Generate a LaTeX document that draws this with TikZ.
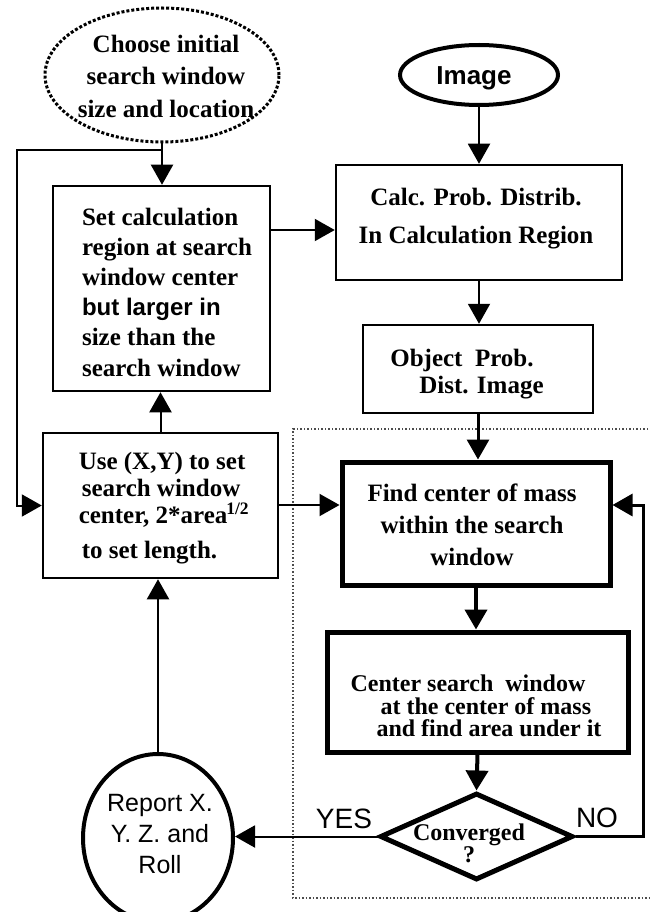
\documentclass[tikz,border=0pt]{standalone}
\usepackage{fontspec}
\setmainfont{Liberation Serif}
\setsansfont{Liberation Sans}
\usetikzlibrary{arrows.meta,shapes.geometric}
\begin{document}
\begin{tikzpicture}[x=1pt,y=-1pt,
  line width=2pt,
  box/.style={draw, rectangle, inner sep=0pt, line width=2.5pt},
  thickbox/.style={draw, rectangle, inner sep=0pt, line width=5pt},
  txt/.style={inner sep=0pt, align=center, font=\fontsize{25}{30}\selectfont\bfseries},
  sftxt/.style={inner sep=0pt, align=center, font=\fontsize{25}{31}\selectfont\sffamily},
  ar/.style={-{Triangle[length=20pt,width=22pt]}, line width=2pt},
  ]
\useasboundingbox (0,0) rectangle (649,912);

% dotted region
\draw[dotted, line width=1.5pt, black!70] (655,429) -- (293,429) -- (293,898) -- (655,898);

% shapes
\node[draw, ellipse, dotted, line width=3pt, minimum width=234pt, minimum height=134pt, inner sep=0pt] (choose) at (162,75) {};
\node[draw, ellipse, line width=4pt, minimum width=158pt, minimum height=60pt, inner sep=0pt] (image) at (479,75) {};
\node[box, minimum width=217pt, minimum height=205pt] (set) at (161.5,288.5) {};
\node[box, minimum width=286pt, minimum height=115pt] (calc) at (479,222.5) {};
\node[box, minimum width=230pt, minimum height=88pt] (obj) at (478,369) {};
\node[box, minimum width=235pt, minimum height=145pt] (use) at (160.5,505.5) {};
\node[thickbox, minimum width=268pt, minimum height=123pt] (find) at (476,523.5) {};
\node[thickbox, minimum width=301pt, minimum height=120pt] (cent) at (477.5,692) {};
\node[draw, diamond, line width=5pt, minimum width=193pt, minimum height=87pt, inner sep=0pt] (conv) at (476.5,836.5) {};
\node[draw, ellipse, line width=4pt, minimum width=150pt, minimum height=168pt, inner sep=0pt] (report) at (158,838) {};

% texts
\node[txt, font=\fontsize{25}{32.5}\selectfont\bfseries] (tchoose) at (166,76) {Choose initial\\search window\\size and location};
\node[inner sep=0pt, font=\fontsize{26}{30}\selectfont\sffamily\bfseries] (timage) at (474,78) {Image};
\node[txt, align=left, font=\fontsize{25}{30.2}\selectfont\bfseries] (tset) at (167,292)
  {Set calculation\\region at search\\window center\\{\sffamily\fontsize{24}{30}\selectfont but larger in}\\size than the\\search window};
\node[txt, font=\fontsize{25}{38}\selectfont\bfseries] (tcalc) at (476,219) {Calc. Prob. Distrib.\\In Calculation Region};
\node[txt, align=left, font=\fontsize{25}{27}\selectfont\bfseries] (tobj) at (467,374) {Object\ \ Prob.\\\hspace*{29pt}Dist. Image};
\node[txt, align=left, font=\fontsize{25}{27}\selectfont\bfseries] (tuse) at (164,508)
  {Use (X,Y) to set\\\hspace*{3pt}search window\\center, 2*area\kern-1pt\textsuperscript{1/2}\\[8pt]\hspace*{3pt}to set length.};
\node[txt, font=\fontsize{25}{32}\selectfont\bfseries] (tfind) at (472,525) {Find center of mass\\within the search\\window};
\node[txt, align=left, font=\fontsize{24}{22.5}\selectfont\bfseries] (tcent) at (476,706)
  {Center search\ \ window\\\hspace*{30pt}at the center of mass\\\hspace*{26pt}and find area under it};
\node[txt, font=\fontsize{24}{21}\selectfont\bfseries] (tconv) at (469,843) {Converged\\?};
\node[sftxt] (treport) at (160,834) {Report X.\\Y. Z. and\\Roll};
\node[inner sep=0pt, font=\fontsize{28}{30}\selectfont\sffamily] (yes) at (344,819) {YES};
\node[inner sep=0pt, font=\fontsize{28}{30}\selectfont\sffamily] (no) at (597,818) {NO};

% connectors
\coordinate (j1) at (162,150);
\coordinate (l2) at (17,505.5);
\coordinate (a1) at (0,230);
\coordinate (a2) at (0,505);
\coordinate (r1) at (643,836.5);
\coordinate (r2) at (643,505);
\draw[ar] (choose.south) -- (choose.south |- set.north);
\draw[ar] (j1) -| (l2) -- (use.west);
\draw[ar] (set.east |- a1) -- (calc.west |- a1);
\draw[ar] (image.south) -- (image.south |- calc.north);
\draw[ar] (calc.south) -- (calc.south |- obj.north);
\draw[ar, line width=3pt] (obj.south) -- (obj.south |- find.north);
\draw[ar] (use.east |- a2) -- (find.west |- a2);
\draw[ar, line width=4pt] (find.south) -- (find.south |- cent.north);
\draw[ar, line width=4pt] (cent.south) -- (conv.north);
\draw[ar] (conv.west) -- (report.east |- conv.west);
\draw[ar, line width=3pt] (conv.east) -- (r1) -- (r2) -- (find.east |- r2);
\draw[ar] (report.north) -- (report.north |- use.south);
\draw[ar] (use.north) -- (use.north |- set.south);
\end{tikzpicture}
\end{document}
